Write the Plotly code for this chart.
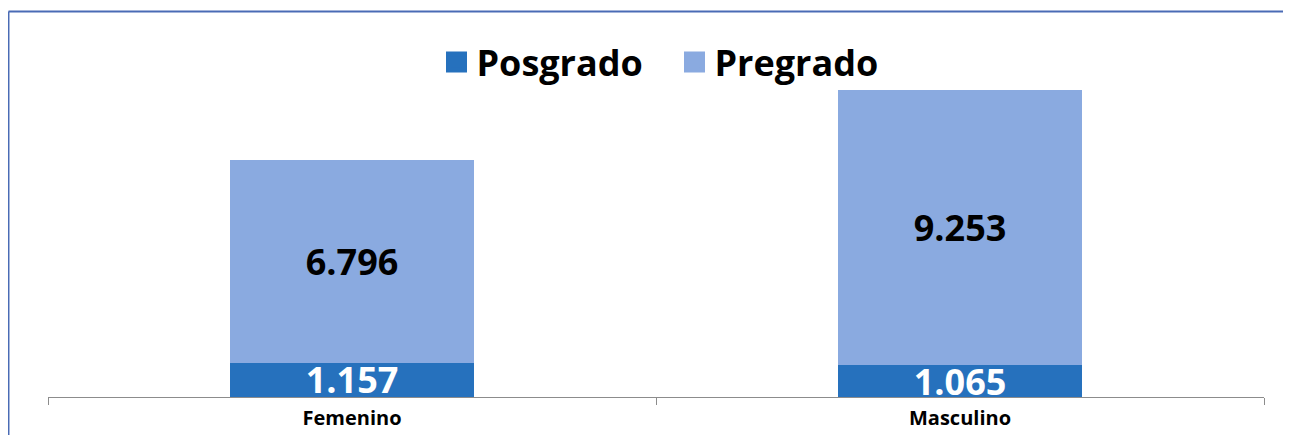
import plotly.graph_objects as go

categories = ["Femenino", "Masculino"]
posgrado = [1157, 1065]
pregrado = [6796, 9253]
posgrado_text = ["1.157", "1.065"]
pregrado_text = ["6.796", "9.253"]

DARK = "#2671BD"
LIGHT = "#8AAAE0"
FRAME = "#4A6BB5"
FONT = "Open Sans"

fig = go.Figure()

fig.add_trace(go.Bar(
    x=categories, y=posgrado, name="Posgrado",
    marker=dict(color=DARK, line=dict(width=0)),
    text=posgrado_text, textposition="inside", insidetextanchor="middle",
    textfont=dict(family=FONT, size=36, color="white", weight="bold"),
    showlegend=False,
))
fig.add_trace(go.Bar(
    x=categories, y=pregrado, name="Pregrado",
    marker=dict(color=LIGHT, line=dict(width=0)),
    text=pregrado_text, textposition="inside", insidetextanchor="middle",
    textfont=dict(family=FONT, size=36, color="black", weight="bold"),
    showlegend=False,
))

# legend entries with bigger square swatches
for name, color in [("Posgrado", DARK), ("Pregrado", LIGHT)]:
    fig.add_trace(go.Scatter(
        x=[None], y=[None], mode="markers", name=name,
        marker=dict(symbol="square", size=24, color=color,
                    line=dict(color=color, width=6)),
    ))

# frame (top + left edge, like the cropped source)
fig.add_shape(type="line", xref="paper", yref="paper",
              x0=-0.0325, x1=1.05, y0=1.0798, y1=1.0798,
              line=dict(color=FRAME, width=2))
fig.add_shape(type="line", xref="paper", yref="paper",
              x0=-0.0325, x1=-0.0325, y0=1.0798, y1=-0.2,
              line=dict(color=FRAME, width=2))

fig.update_layout(
    width=1275, height=427,
    barmode="stack", bargap=0.6,
    paper_bgcolor="white", plot_bgcolor="white",
    margin=dict(l=40, r=19, t=32, b=38),
    uniformtext=dict(minsize=36, mode="show"),
    legend=dict(
        orientation="h", x=0.5152, xanchor="center", y=0.938, yanchor="middle",
        traceorder="normal", entrywidth=193,
        font=dict(family=FONT, size=36, color="black", weight="bold"),
        itemsizing="trace", bgcolor="rgba(0,0,0,0)",
    ),
)
fig.update_xaxes(
    showline=True, linecolor="#8C8C8C", linewidth=1,
    ticks="outside", tickson="boundaries", ticklen=7, tickcolor="#8C8C8C",
    tickfont=dict(family=FONT, size=20, color="black", weight="bold"),
    ticklabelstandoff=3, showgrid=False, automargin=False,
)
fig.update_yaxes(visible=False, range=[0, 12000], showgrid=False)

fig.write_html("out.html")
